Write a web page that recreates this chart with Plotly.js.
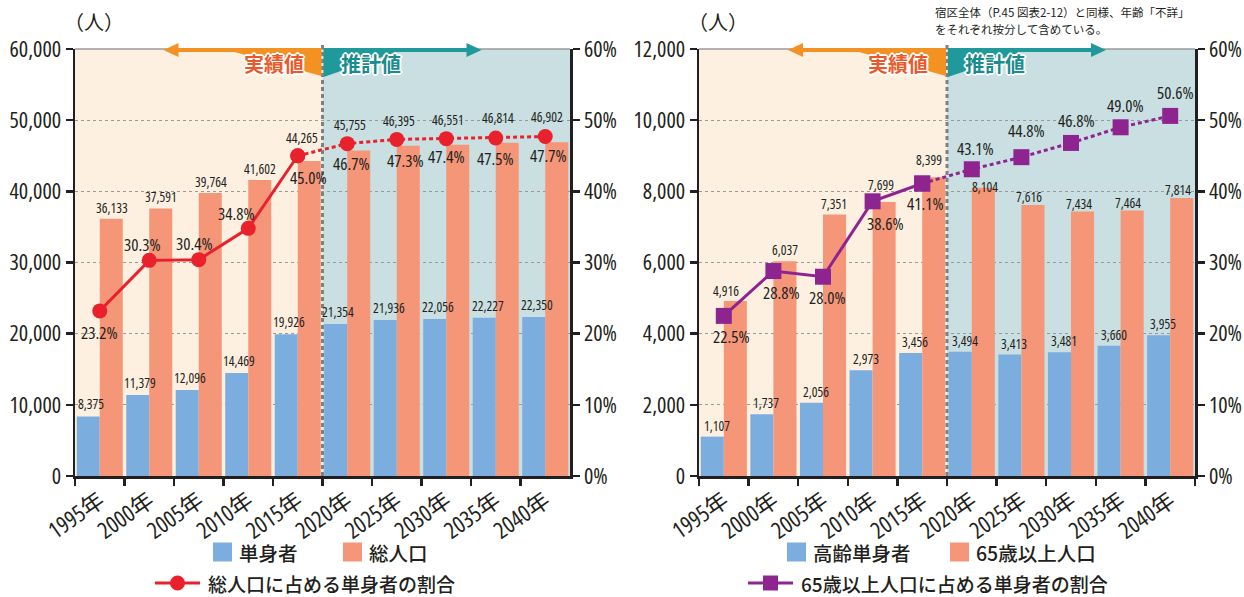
<!DOCTYPE html>
<html>
<head>
<meta charset="utf-8">
<script src="https://cdn.plot.ly/plotly-3.0.1.min.js"></script>
<style>
html,body{margin:0;padding:0;background:#fff;}
#chart{width:1244px;height:597px;}
svg text{font-stretch:75%;}
</style>
</head>
<body>
<div id="chart"></div>
<script>
// ---------------- DATA ----------------
const years = ['1995年','2000年','2005年','2010年','2015年','2020年','2025年','2030年','2035年','2040年'];
const singles = [8375, 11379, 12096, 14469, 19926, 21354, 21936, 22056, 22227, 22350];
const totalPop = [36133, 37591, 39764, 41602, 44265, 45755, 46395, 46551, 46814, 46902];
const singleShare = [23.2, 30.3, 30.4, 34.8, 45.0, 46.7, 47.3, 47.4, 47.5, 47.7];
const elderlySingles = [1107, 1737, 2056, 2973, 3456, 3494, 3413, 3481, 3660, 3955];
const elderlyPop = [4916, 6037, 7351, 7699, 8399, 8104, 7616, 7434, 7464, 7814];
const elderlyShare = [22.5, 28.8, 28.0, 38.6, 41.1, 43.1, 44.8, 46.8, 49.0, 50.6];
const actualCount = 5; // 1995-2015 are actual values, the rest are estimates

const leftLegend = ['単身者', '総人口', '総人口に占める単身者の割合'];
const rightLegend = ['高齢単身者', '65歳以上人口', '65歳以上人口に占める単身者の割合'];

// ---------------- STYLE / LABEL OFFSETS (pixels) ----------------
const blueC = '#7badde', orangeC = '#f59678', redC = '#e8212c', purpleC = '#8e2490';
const ink = '#231f20';
const numFont = 'Open Sans, Noto Sans CJK JP, sans-serif';
const jpFont = 'Noto Sans CJK JP, sans-serif';

const lBlueDx = [-9,-9,-9,-9,-9,-9,-8,-8,-8,-8], lBlueDy = [12,12,12,12,12,12,12,12,12,12];
const lOrDx = [12,12,12,12,4,3,2,2,2,2], lOrDy = [11,11,11,11,23,25,25,25,25,25];
const lPctDx = [0,-7,-4,-12,11,4,9,0,0,3], lPctDy = [-22,16,16,15,-22,-20,-21,-18,-21,-19];
const rBlueDx = [-7,-7,-7,-7,-7,-7,-7,-7,-7,-7], rBlueDy = [11,11,11,11,11,11,11,11,11,11];
const rOrDx = [2,11.5,11,8,7,13,8,8,7.5,8], rOrDy = [10,11,10,17,17,1,8,7.5,7.5,7.5];
const rPctDx = [8,8,4.5,13,3.5,4,5,5,4.5,5], rPctDy = [-21,-21,-21,-22,-20,21,27,22,22,23];

const W = 1244, H = 597;
const PX = p => p / W, PY = p => 1 - p / H;
const topPx = 49, botPx = 476;
const L = {x0: 75, x1: 570}, R = {x0: 699, x1: 1195};

// ---------------- TRACES ----------------
function barsAndLine(xa, ya, ya2, blueVals, orVals, share, color, symbol, names) {
  const t = [];
  t.push({type:'bar', x: years, y: blueVals, xaxis: xa, yaxis: ya, marker:{color: blueC}, name: names[0], showlegend:false, hoverinfo:'y'});
  t.push({type:'bar', x: years, y: orVals, xaxis: xa, yaxis: ya, marker:{color: orangeC}, name: names[1], showlegend:false, hoverinfo:'y'});
  const msize = symbol === 'circle' ? 15 : 16;
  t.push({type:'scatter', mode:'lines+markers', x: years.slice(0, actualCount), y: share.slice(0, actualCount),
          xaxis: xa, yaxis: ya2, line:{color: color, width: 3}, marker:{color: color, size: msize, symbol: symbol},
          name: names[2], showlegend:false});
  t.push({type:'scatter', mode:'lines+markers', x: years.slice(actualCount-1), y: share.slice(actualCount-1),
          xaxis: xa, yaxis: ya2, line:{color: color, width: 3, dash:'4px,3px'}, marker:{color: color, size: msize, symbol: symbol},
          name: names[2], showlegend:false});
  return t;
}
const data = [
  ...barsAndLine('x','y','y2', singles, totalPop, singleShare, redC, 'circle', leftLegend),
  ...barsAndLine('x2','y3','y4', elderlySingles, elderlyPop, elderlyShare, purpleC, 'square', rightLegend)
];

// ---------------- ANNOTATIONS ----------------
const ann = [];
const fmt = v => v.toLocaleString('en-US');
function labels(xr, yr, yr2, blueVals, orVals, share, bdx, bdy, odx, ody, pdx, pdy) {
  years.forEach((yr_, i) => {
    ann.push({xref: xr, yref: yr, x: yr_, y: blueVals[i], text: fmt(blueVals[i]), showarrow:false, xanchor:'center', yanchor:'middle',
      xshift: bdx[i], yshift: bdy[i], font:{family: numFont, size: 13.5, color: ink}});
    ann.push({xref: xr, yref: yr, x: yr_, y: orVals[i], text: fmt(orVals[i]), showarrow:false, xanchor:'center', yanchor:'middle',
      xshift: odx[i], yshift: ody[i], font:{family: numFont, size: 13.5, color: ink}});
    ann.push({xref: xr, yref: yr2, x: yr_, y: share[i], text: share[i].toFixed(1) + '%', showarrow:false, xanchor:'center', yanchor:'middle',
      xshift: pdx[i], yshift: pdy[i], font:{family: numFont, size: 17, color: ink}});
  });
}
labels('x','y','y2', singles, totalPop, singleShare, lBlueDx, lBlueDy, lOrDx, lOrDy, lPctDx, lPctDy);
labels('x2','y3','y4', elderlySingles, elderlyPop, elderlyShare, rBlueDx, rBlueDy, rOrDx, rOrDy, rPctDx, rPctDy);

const outline = '1px 0 0 #fff, -1px 0 0 #fff, 0 1px 0 #fff, 0 -1px 0 #fff, 1px 1px 0 #fff, -1px -1px 0 #fff, 1px -1px 0 #fff, -1px 1px 0 #fff, 2px 0 0 #fff, -2px 0 0 #fff, 0 2px 0 #fff, 0 -2px 0 #fff';

const shapes = [];
function decorate(P, xr) {
  const cw = (P.x1 - P.x0) / years.length;
  const D = P.x0 + actualCount * cw;
  const ydom = (xr === 'x' ? 'y' : 'y3') + ' domain';
  shapes.push({type:'rect', xref:'paper', yref: ydom, x0: PX(D), x1: PX(P.x1), y0: 0, y1: 1, fillcolor:'#c9dfe2', line:{width:0}, layer:'below'});
  shapes.push({type:'line', xref:'paper', yref: ydom, x0: PX(P.x0), x1: PX(P.x1), y0: 1, y1: 1, line:{color:'#9a9a9a', width:1.5}, layer:'between'});
  shapes.push({type:'line', xref:'paper', yref:'paper', x0: PX(D), x1: PX(D), y0: PY(botPx), y1: PY(42), line:{color:'#808080', width:3, dash:'4px,3px'}, layer:'above'});
  const poly = pts => 'M' + pts.map(p => PX(p[0]) + ',' + PY(p[1])).join(' L') + ' Z';
  shapes.push({type:'path', xref:'paper', yref:'paper', path: poly([[D-1,48],[D-145,48],[D-145,52],[D-88,52],[D-1,76]]), fillcolor:'#f39222', line:{width:0}, layer:'above'});
  shapes.push({type:'path', xref:'paper', yref:'paper', path: poly([[D-159,50],[D-144,43],[D-144,57]]), fillcolor:'#f39222', line:{width:0}, layer:'above'});
  shapes.push({type:'path', xref:'paper', yref:'paper', path: poly([[D+1,48],[D+145,48],[D+145,52],[D+74,52],[D+1,77]]), fillcolor:'#20999a', line:{width:0}, layer:'above'});
  shapes.push({type:'path', xref:'paper', yref:'paper', path: poly([[D+159,50],[D+144,43],[D+144,57]]), fillcolor:'#20999a', line:{width:0}, layer:'above'});
  ann.push({xref:'paper', yref:'paper', x: PX(D-49), y: PY(64), xanchor:'center', yanchor:'middle', text:'実績値', showarrow:false,
    font:{family: jpFont, size: 20, color:'#e95a2b', weight: 700, shadow: outline}});
  ann.push({xref:'paper', yref:'paper', x: PX(D+48), y: PY(64), xanchor:'center', yanchor:'middle', text:'推計値', showarrow:false,
    font:{family: jpFont, size: 20, color:'#1a8c8e', weight: 700, shadow: outline}});
  ann.push({xref:'paper', yref:'paper', x: PX(P.x0 - 13), y: PY(22), xanchor:'left', yanchor:'middle', text:'（人）', showarrow:false,
    font:{family: jpFont, size: 20, color: ink}});
}
decorate(L, 'x');
decorate(R, 'x2');

function legend(names, markerColor, symbol, sq1, sq2, lineX, row1, row2) {
  const sq = (x, c) => shapes.push({type:'rect', xref:'paper', yref:'paper', x0: PX(x), x1: PX(x+19), y0: PY(row1+9.5), y1: PY(row1-9.5), fillcolor: c, line:{width:0}});
  sq(sq1, blueC); sq(sq2, orangeC);
  const f = {family: jpFont, size: 19.5, color: ink, weight: 500};
  ann.push({xref:'paper', yref:'paper', x: PX(sq1+25), y: PY(row1), xanchor:'left', yanchor:'middle', borderpad:0, text: names[0], showarrow:false, font: f});
  ann.push({xref:'paper', yref:'paper', x: PX(sq2+25), y: PY(row1), xanchor:'left', yanchor:'middle', borderpad:0, text: names[1], showarrow:false, font: f});
  shapes.push({type:'line', xref:'paper', yref:'paper', x0: PX(lineX), x1: PX(lineX+45), y0: PY(row2), y1: PY(row2), line:{color: markerColor, width: 3}});
  const cx = lineX + 22.5;
  shapes.push({type: symbol==='circle' ? 'circle' : 'rect', xref:'paper', yref:'paper', x0: PX(cx-7.5), x1: PX(cx+7.5), y0: PY(row2+7.5), y1: PY(row2-7.5), fillcolor: markerColor, line:{width:0}});
  ann.push({xref:'paper', yref:'paper', x: PX(lineX+52), y: PY(row2), xanchor:'left', yanchor:'middle', borderpad:0, text: names[2], showarrow:false,
    font: Object.assign({}, f, {size: 19})});
}
legend(leftLegend, redC, 'circle', 213, 343, 155, 552, 583);
legend(rightLegend, purpleC, 'square', 787, 950, 748, 552, 583);

ann.push({xref:'paper', yref:'paper', x: PX(933), y: PY(12), xanchor:'left', yanchor:'middle', text:'宿区全体（P.45 図表2-12）と同様、年齢「不詳」', showarrow:false, font:{family: jpFont, size: 11.5, color: ink}});
ann.push({xref:'paper', yref:'paper', x: PX(933), y: PY(29), xanchor:'left', yanchor:'middle', text:'をそれぞれ按分して含めている。', showarrow:false, font:{family: jpFont, size: 11.5, color: ink}});

// ---------------- AXES ----------------
const ydomain = [1 - botPx / H, 1 - topPx / H];
const xCommon = {type:'category', tickson:'boundaries', ticks:'outside', ticklen: 7, tickwidth: 2.5, tickcolor: ink,
  showline: true, linecolor: ink, linewidth: 2.5, tickangle: -35, range: [-0.5, 9.5], fixedrange: true,
  tickfont:{family: numFont, size: 23, color: ink}, showgrid:false};
const yCommon = {ticks:'outside', ticklen: 7, tickwidth: 2.5, tickcolor: ink, showline: true, linecolor: ink, linewidth: 2.5,
  zeroline:false, tickfont:{family: numFont, size: 22, color: ink}, fixedrange: true};
const layout = {
  width: W, height: H, margin:{l:0, r:0, t:0, b:0}, paper_bgcolor:'#fff', plot_bgcolor:'#fdf0e1',
  barmode:'group', bargap: 0.07, bargroupgap: 0, showlegend:false,
  xaxis: Object.assign({}, xCommon, {domain:[PX(L.x0), PX(L.x1)], anchor:'y'}),
  yaxis: Object.assign({}, yCommon, {domain: ydomain, anchor:'x', range:[0, 60000], dtick: 10000, tickformat:',d',
    showgrid:true, gridcolor:'#9a9a9a', gridwidth: 1.2, griddash:'3px,3px'}),
  yaxis2: Object.assign({}, yCommon, {overlaying:'y', side:'right', anchor:'x', range:[0, 60], dtick: 10, ticksuffix:'%', showgrid:false}),
  xaxis2: Object.assign({}, xCommon, {domain:[PX(R.x0), PX(R.x1)], anchor:'y3'}),
  yaxis3: Object.assign({}, yCommon, {domain: ydomain, anchor:'x2', range:[0, 12000], dtick: 2000, tickformat:',d',
    showgrid:true, gridcolor:'#9a9a9a', gridwidth: 1.2, griddash:'3px,3px'}),
  yaxis4: Object.assign({}, yCommon, {overlaying:'y3', side:'right', anchor:'x2', range:[0, 60], dtick: 10, ticksuffix:'%', showgrid:false}),
  shapes: shapes, annotations: ann
};
Plotly.newPlot('chart', data, layout, {staticPlot: true, displayModeBar: false});
</script>
</body>
</html>
